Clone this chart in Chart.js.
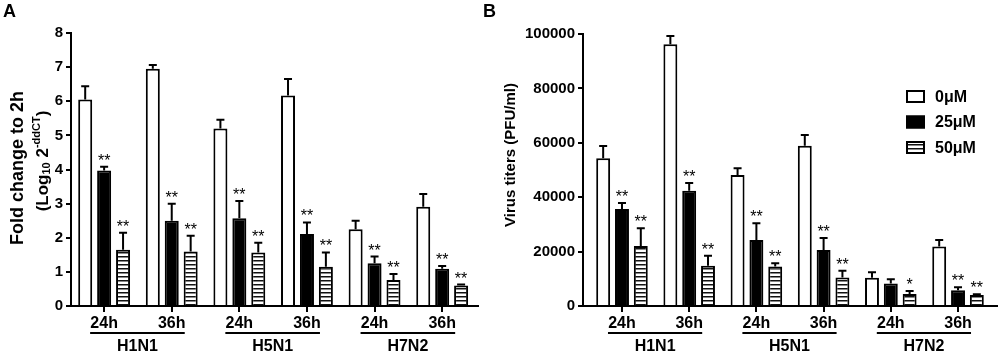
<!DOCTYPE html>
<html>
<head>
<meta charset="utf-8">
<script src="https://cdn.jsdelivr.net/npm/chart.js@4.4.1/dist/chart.umd.min.js"></script>
<style>
  body { margin: 0; background: #fff; }
  .wrap { position: absolute; top: 0; }
</style>
</head>
<body>
<div class="wrap" style="left:0px"><canvas id="chartA" width="490" height="356"></canvas></div>
<div class="wrap" style="left:480px"><canvas id="chartB" width="520" height="356"></canvas></div>
<script>
// categories
var groups = ['H1N1', 'H5N1', 'H7N2'];
var times = ['24h', '36h', '24h', '36h', '24h', '36h'];
var doses = ['0μM', '25μM', '50μM'];

// panel A: fold change (log10 2^-ddCT), upper error bars
var foldMean0  = [6.05, 6.95, 5.20, 6.17, 2.25, 2.91];
var foldMean25 = [3.97, 2.50, 2.57, 2.11, 1.25, 1.09];
var foldMean50 = [1.65, 1.60, 1.57, 1.15, 0.76, 0.60];
var foldErr0   = [0.39, 0.11, 0.26, 0.48, 0.25, 0.37];
var foldErr25  = [0.11, 0.50, 0.51, 0.34, 0.20, 0.08];
var foldErr50  = [0.50, 0.46, 0.28, 0.42, 0.18, 0.03];
var foldStars25 = ['**', '**', '**', '**', '**', '**'];
var foldStars50 = ['**', '**', '**', '**', '**', '**'];

// panel B: virus titers (PFU/ml)
var titerMean0  = [54300, 96200, 48200, 58900, 10400, 21900];
var titerMean25 = [35700, 42400, 24300, 20600, 8300, 5800];
var titerMean50 = [22100, 14800, 14500, 10500, 4400, 4000];
var titerErr0   = [4500, 3100, 2400, 4000, 2000, 2400];
var titerErr25  = [2200, 2800, 6100, 4400, 1500, 1100];
var titerErr50  = [6500, 3700, 1200, 2500, 1100, 300];
var titerStars25 = ['**', '**', '**', '**', '', '**'];
var titerStars50 = ['**', '**', '**', '**', '*', '**'];

var FONT = '"Liberation Sans", Arial, sans-serif';

// horizontal stripes for the 50 uM bars
function stripes() {
  var c = document.createElement('canvas');
  c.width = 8; c.height = 4;
  var g = c.getContext('2d');
  g.fillStyle = '#fff'; g.fillRect(0, 0, 8, 4);
  g.fillStyle = '#111'; g.fillRect(0, 0, 8, 1.5);
  return g.createPattern(c, 'repeat');
}
var stripeFill = stripes();
var fills = ['#ffffff', '#000000', stripeFill];

function pts(arr) {
  return arr.map(function (v, i) { return { x: i, y: v }; });
}

function makeDatasets(means, errs, stars) {
  return means.map(function (m, k) {
    return {
      label: doses[k],
      data: pts(m),
      err: errs[k],
      stars: stars[k],
      backgroundColor: fills[k],
      borderColor: '#000',
      borderWidth: 2,
      categoryPercentage: 0.84,
      barPercentage: 0.74
    };
  });
}

function drawRich(ctx, parts, cx, cy) {
  // parts drawn along a rotated baseline, centred on (cx, cy)
  ctx.save();
  ctx.translate(cx, cy);
  ctx.rotate(-Math.PI / 2);
  var total = 0;
  parts.forEach(function (p) {
    ctx.font = 'bold ' + p.s + 'px ' + FONT;
    p.w = ctx.measureText(p.t).width;
    total += p.w;
  });
  var x = -total / 2;
  ctx.textBaseline = 'middle';
  ctx.textAlign = 'left';
  ctx.fillStyle = '#000';
  parts.forEach(function (p) {
    ctx.font = 'bold ' + p.s + 'px ' + FONT;
    ctx.fillText(p.t, x, p.dy || 0);
    x += p.w;
  });
  ctx.restore();
}

function decor(cfg) {
  return {
    id: 'decor',
    afterDatasetsDraw: function (chart) {
      var ctx = chart.ctx, ys = chart.scales.y;
      ctx.save();
      ctx.strokeStyle = '#000';
      ctx.fillStyle = '#000';
      ctx.lineWidth = 2;
      chart.data.datasets.forEach(function (ds, di) {
        var meta = chart.getDatasetMeta(di);
        meta.data.forEach(function (bar, i) {
          var top = ys.getPixelForValue(ds.data[i].y + ds.err[i]);
          ctx.beginPath();
          ctx.moveTo(bar.x, bar.y);
          ctx.lineTo(bar.x, top);
          ctx.moveTo(bar.x - 4, top);
          ctx.lineTo(bar.x + 4, top);
          ctx.stroke();
          if (ds.stars && ds.stars[i]) {
            ctx.font = '16px ' + FONT;
            ctx.textAlign = 'center';
            ctx.textBaseline = 'alphabetic';
            ctx.fillText(ds.stars[i], bar.x, top - 1);
          }
        });
      });
      ctx.restore();
    },
    afterDraw: function (chart) {
      var ctx = chart.ctx, xs = chart.scales.x;
      ctx.save();
      ctx.strokeStyle = '#000';
      ctx.fillStyle = '#000';
      ctx.lineWidth = 2;
      // group underline + name
      groups.forEach(function (g, k) {
        var x0 = xs.getPixelForValue(2 * k) - 14;
        var x1 = xs.getPixelForValue(2 * k + 1) + 13;
        ctx.beginPath();
        ctx.moveTo(x0, 333);
        ctx.lineTo(x1, 333);
        ctx.stroke();
        ctx.font = 'bold 16px ' + FONT;
        ctx.textAlign = 'center';
        ctx.textBaseline = 'middle';
        ctx.fillText(g, (x0 + x1) / 2, 347);
      });
      // panel letter
      ctx.font = 'bold 18px ' + FONT;
      ctx.textAlign = 'left';
      ctx.textBaseline = 'middle';
      ctx.fillText(cfg.letter, 3, 12);
      ctx.restore();
      // y axis title
      cfg.titles.forEach(function (t) { drawRich(ctx, t.parts, t.x, t.y); });
      // legend
      if (cfg.legend) {
        ctx.save();
        chart.data.datasets.forEach(function (ds, k) {
          var cy = cfg.legend.y + k * cfg.legend.gap;
          ctx.fillStyle = ds.backgroundColor;
          ctx.fillRect(cfg.legend.x, cy - 6.5, 19, 13);
          ctx.strokeStyle = '#000';
          ctx.lineWidth = 2;
          ctx.strokeRect(cfg.legend.x + 1, cy - 5.5, 17, 11);
          ctx.fillStyle = '#000';
          ctx.font = 'bold 16px ' + FONT;
          ctx.textAlign = 'left';
          ctx.textBaseline = 'middle';
          ctx.fillText(ds.label, cfg.legend.x + 29, cy + 1);
        });
        ctx.restore();
      }
    }
  };
}

function makeChart(id, datasets, yMax, yStep, xMin, xMax, pad, yWidth, cfg) {
  return new Chart(document.getElementById(id), {
    type: 'bar',
    data: { datasets: datasets },
    plugins: [decor(cfg)],
    options: {
      responsive: false,
      animation: false,
      layout: { padding: { top: pad.top, right: pad.right, left: 0, bottom: 0 } },
      plugins: { legend: { display: false }, tooltip: { enabled: false } },
      scales: {
        x: {
          type: 'linear',
          offset: false,
          min: xMin,
          max: xMax,
          afterBuildTicks: function (s) {
            s.ticks = times.map(function (t, i) { return { value: i }; });
          },
          afterFit: function (s) {
            s.height = 50;
            s.paddingLeft = 0;
            s.paddingRight = 0;
          },
          border: { display: true, color: '#000', width: 2 },
          grid: { display: true, offset: false, drawOnChartArea: false, drawTicks: true, tickLength: 6, color: '#000', lineWidth: 2 },
          ticks: {
            autoSkip: false,
            maxRotation: 0,
            padding: 2,
            color: '#000',
            font: { family: FONT, size: 16, weight: 'bold' },
            callback: function (v) { return times[v]; }
          }
        },
        y: {
          min: 0,
          max: yMax,
          afterFit: function (s) { s.width = yWidth; },
          border: { display: true, color: '#000', width: 2 },
          grid: { display: true, drawOnChartArea: false, drawTicks: true, tickLength: 5, color: '#000', lineWidth: 2 },
          ticks: {
            stepSize: yStep,
            padding: 3,
            color: '#000',
            font: { family: FONT, size: 15, weight: 'bold' },
            callback: function (v) { return String(v); }
          }
        }
      }
    }
  });
}

makeChart('chartA',
  makeDatasets([foldMean0, foldMean25, foldMean50], [foldErr0, foldErr25, foldErr50], [[], foldStars25, foldStars50]),
  8, 1, -0.49, 5.53, { top: 33, right: 12 }, 71,
  {
    letter: 'A',
    titles: [
      { x: 18, y: 168, parts: [{ t: 'Fold change to 2h', s: 18 }] },
      { x: 43, y: 161, parts: [
        { t: '(Log', s: 17 }, { t: '10', s: 11, dy: 4 }, { t: ' 2', s: 17 },
        { t: '-ddCT', s: 11, dy: -6 }, { t: ')', s: 17 }
      ] }
    ]
  });

makeChart('chartB',
  makeDatasets([titerMean0, titerMean25, titerMean50], [titerErr0, titerErr25, titerErr50], [[], titerStars25, titerStars50]),
  100000, 20000, -0.58, 5.58, { top: 34, right: 3 }, 103,
  {
    letter: 'B',
    titles: [{ x: 31, y: 155, parts: [{ t: 'Virus titers (PFU/ml)', s: 15 }] }],
    legend: { x: 426, y: 96.5, gap: 25.5 }
  });
</script>
</body>
</html>
